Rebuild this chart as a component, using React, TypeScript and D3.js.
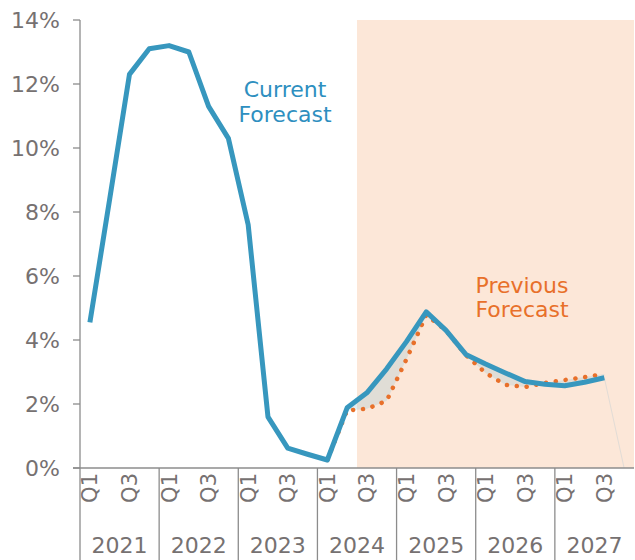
import React from "react";
import * as d3 from "d3";

const years = ["2021", "2022", "2023", "2024", "2025", "2026", "2027"];
const quarterNames = ["Q1", "Q2", "Q3", "Q4"];
const shownQuarterLabels = ["Q1", "Q3"];
const yTicks = [0, 2, 4, 6, 8, 10, 12, 14];

// Current forecast, 2021Q1 .. 2027Q3 (%)
const currentForecast = [
  4.55, 8.4, 12.3, 13.1, 13.2, 13.0, 11.3, 10.3, 7.6, 1.6, 0.62, 0.43, 0.25,
  1.88, 2.35, 3.1, 3.95, 4.88, 4.3, 3.55, 3.25, 2.97, 2.7, 2.62, 2.57, 2.68, 2.82,
];
// Previous forecast, 2024Q1 .. 2027Q3 (%)
const previousStart = 12;
const previousForecast = [
  0.25, 1.8, 1.85, 2.1, 3.4, 4.78, 4.3, 3.53, 2.97, 2.6, 2.53, 2.66, 2.75, 2.84, 2.94,
];
const forecastStartIndex = 14; // 2024Q3
const trailingValue = 0; // 2027Q4 faint tail

const W = 635;
const H = 560;
const left = 80;
const right = 634;
const top = 20;
const bottom = 468;
const FONT = "DejaVu Sans, sans-serif";

export default function App() {
  const keys: string[] = [];
  years.forEach((y) => quarterNames.forEach((q) => keys.push(y + q)));

  const x = d3.scaleBand<string>().domain(keys).range([left, right]).padding(0);
  const cx = (i: number) => (x(keys[i]) as number) + x.bandwidth() / 2;
  const y = d3.scaleLinear().domain([0, 14]).range([bottom, top]);

  const line = d3
    .line<[number, number]>()
    .x((d) => cx(d[0]))
    .y((d) => y(d[1]));

  const curPts: [number, number][] = currentForecast.map((v, i) => [i, v]);
  const prevPts: [number, number][] = previousForecast.map((v, i) => [i + previousStart, v]);

  const areaData = previousForecast.map((v, i) => ({
    i: i + previousStart,
    p: v,
    c: currentForecast[i + previousStart],
  }));
  const area = d3
    .area<{ i: number; p: number; c: number }>()
    .x((d) => cx(d.i))
    .y0((d) => y(d.p))
    .y1((d) => y(d.c));

  const lastI = currentForecast.length - 1;
  const tail: [number, number][] = [
    [lastI, currentForecast[lastI]],
    [lastI + 1, trailingValue],
  ];

  const yearW = x.bandwidth() * 4;
  const gray = "#767171";
  const axisColor = "#8c8c8c";

  return (
    <svg width={W} height={H} style={{ display: "block", position: "absolute", left: 0, top: 0 }}>
      <rect width={W} height={H} fill="#ffffff" />
      {/* forecast shading */}
      <rect
        x={x(keys[forecastStartIndex]) as number}
        y={top}
        width={right - (x(keys[forecastStartIndex]) as number)}
        height={bottom - top}
        fill="#fce7d8"
      />
      {/* area between forecasts */}
      <path d={area(areaData) || ""} fill="rgba(165,198,210,0.32)" />
      <path d={line(tail) || ""} fill="none" stroke="#e2dcd6" strokeWidth={1} />

      {/* y axis */}
      <line x1={left} x2={left} y1={top} y2={bottom} stroke={axisColor} strokeWidth={1.3} />
      {yTicks.map((t) => (
        <g key={t}>
          <line x1={left - 7} x2={left} y1={y(t)} y2={y(t)} stroke={axisColor} strokeWidth={1.3} />
          <text
            x={60}
            y={y(t)}
            dy="0.36em"
            textAnchor="end"
            fontFamily={FONT}
            fontSize={22}
            fill={gray}
          >
            {t}%
          </text>
        </g>
      ))}

      {/* x axis */}
      <line x1={left - 7} x2={right} y1={bottom} y2={bottom} stroke={axisColor} strokeWidth={1.5} />
      {keys.map((k, i) =>
        shownQuarterLabels.includes(quarterNames[i % 4]) ? (
          <text
            key={k}
            transform={`translate(${cx(i)},${bottom + 5}) rotate(-90)`}
            textAnchor="end"
            dy="0.36em"
            fontFamily={FONT}
            fontSize={21}
            fill={gray}
          >
            {quarterNames[i % 4]}
          </text>
        ) : null
      )}
      {years.map((yr, j) => {
        const x0 = x(yr + "Q1") as number;
        return (
          <g key={yr}>
            <line x1={x0} x2={x0} y1={bottom} y2={H} stroke={axisColor} strokeWidth={1.3} />
            <text
              x={x0 + yearW / 2}
              y={553}
              textAnchor="middle"
              fontFamily={FONT}
              fontSize={22}
              fill={gray}
            >
              {yr}
            </text>
          </g>
        );
      })}

      {/* previous forecast dotted */}
      <path
        d={line(prevPts) || ""}
        fill="none"
        stroke="#e8702a"
        strokeWidth={4.5}
        strokeLinecap="round"
        strokeDasharray="0.1 9.8"
      />
      {/* current forecast */}
      <path
        d={line(curPts) || ""}
        fill="none"
        stroke="#3797be"
        strokeWidth={5}
        strokeLinejoin="round"
        strokeLinecap="butt"
      />

      {/* labels */}
      <text textAnchor="middle" fontFamily={FONT} fontSize={22} fill="#2e8fc0">
        <tspan x={285} y={97}>Current</tspan>
        <tspan x={285} y={122}>Forecast</tspan>
      </text>
      <text textAnchor="middle" fontFamily={FONT} fontSize={22} fill="#e8702a">
        <tspan x={522} y={293}>Previous</tspan>
        <tspan x={522} y={317}>Forecast</tspan>
      </text>
    </svg>
  );
}
